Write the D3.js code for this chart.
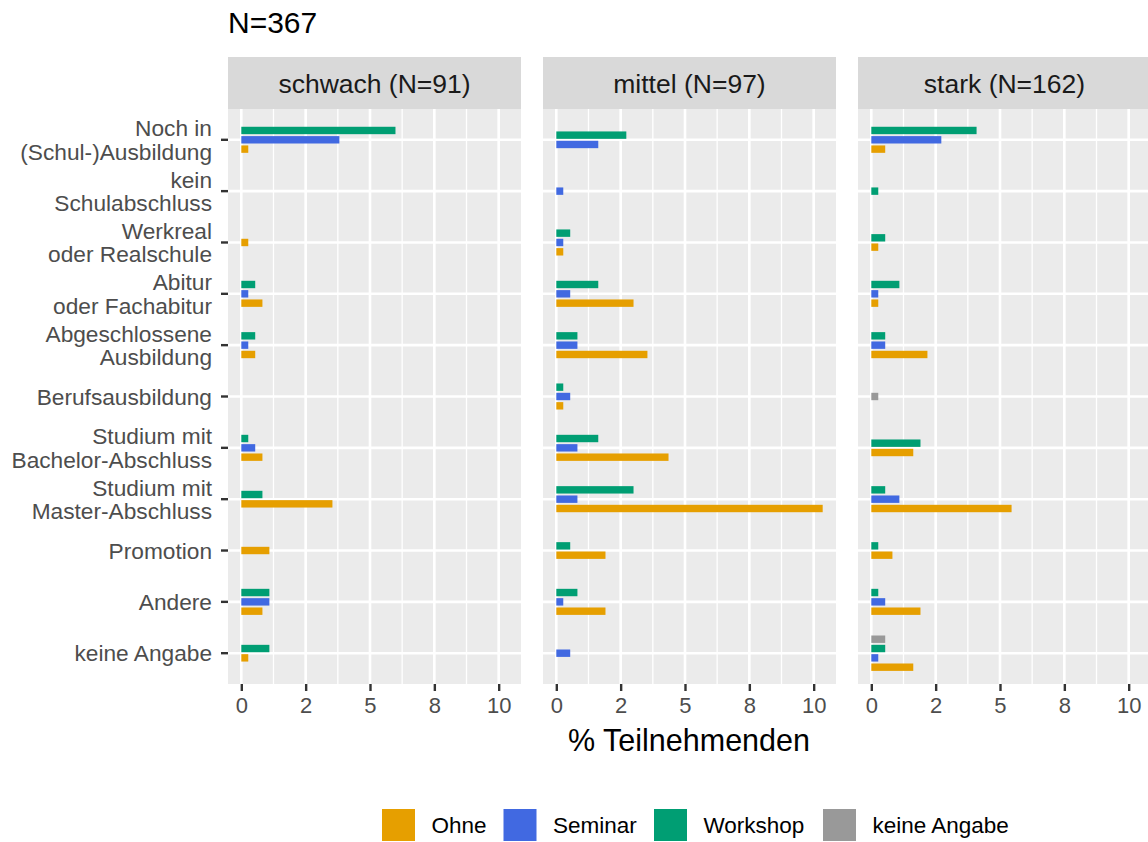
<!DOCTYPE html>
<html>
<head>
<meta charset="utf-8">
<script src="https://cdn.jsdelivr.net/npm/d3@7"></script>
<style>
  html, body { margin: 0; padding: 0; background: #ffffff; }
  svg { display: block; font-family: "Liberation Sans", Arial, sans-serif; }
</style>
</head>
<body>
<svg id="chart" width="1148" height="842"></svg>
<script>
// Education level categories (top to bottom), multi-line labels split by "\n"
const categories = [
  "Noch in\n(Schul-)Ausbildung",
  "kein\nSchulabschluss",
  "Werkreal\noder Realschule",
  "Abitur\noder Fachabitur",
  "Abgeschlossene\nAusbildung",
  "Berufsausbildung",
  "Studium mit\nBachelor-Abschluss",
  "Studium mit\nMaster-Abschluss",
  "Promotion",
  "Andere",
  "keine Angabe"
];

const panelTitles = ["schwach (N=91)", "mittel (N=97)", "stark (N=162)"];
const groups = ["Ohne", "Seminar", "Workshop", "keine Angabe"];
const groupColors = ["#E69F00", "#4169E1", "#009E73", "#999999"];

const xTickValues = [0, 2.5, 5, 7.5, 10];
const xTickLabels = ["0", "2", "5", "8", "10"];

// % of all participants (N=367); null = no answers in that cell
const schwachOhne     = [0.27, null, 0.27, 0.82, 0.54, null, 0.82, 3.54, 1.09, 0.82, 0.27];
const schwachSeminar  = [3.81, null, null, 0.27, 0.27, null, 0.54, null, null, 1.09, null];
const schwachWorkshop = [5.99, null, null, 0.54, 0.54, null, 0.27, 0.82, null, 1.09, 1.09];
const schwachKeine    = [null, null, null, null, null, null, null, null, null, null, null];

const mittelOhne      = [null, null, 0.27, 3.00, 3.54, 0.27, 4.36, 10.35, 1.91, 1.91, null];
const mittelSeminar   = [1.63, 0.27, 0.27, 0.54, 0.82, 0.54, 0.82, 0.82, null, 0.27, 0.54];
const mittelWorkshop  = [2.72, null, 0.54, 1.63, 0.82, 0.27, 1.63, 3.00, 0.54, 0.82, null];
const mittelKeine     = [null, null, null, null, null, null, null, null, null, null, null];

const starkOhne       = [0.54, null, 0.27, 0.27, 2.18, null, 1.63, 5.45, 0.82, 1.91, 1.63];
const starkSeminar    = [2.72, null, null, 0.27, 0.54, null, null, 1.09, null, 0.54, 0.27];
const starkWorkshop   = [4.09, 0.27, 0.54, 1.09, 0.54, null, 1.91, 0.54, 0.27, 0.27, 0.54];
const starkKeine      = [null, null, null, null, null, 0.27, null, null, null, null, 0.54];

const panelSeries = [
  [schwachOhne, schwachSeminar, schwachWorkshop, schwachKeine],
  [mittelOhne, mittelSeminar, mittelWorkshop, mittelKeine],
  [starkOhne, starkSeminar, starkWorkshop, starkKeine]
];

// ---- layout ----
const svg = d3.select("#chart");
const panelLefts = [228, 543, 858];
const panelWidth = 293;
const stripTop = 57, stripBottom = 109;
const panelTop = 109, panelBottom = 684;
const barPitch = 9.33, barHeight = 7.4;

const maxVal = d3.max(panelSeries.flat(2).filter(v => v != null));
const x = d3.scaleLinear()
  .domain([-0.05 * maxVal, maxVal * 1.05])
  .range([0, panelWidth]);

const y = d3.scalePoint()
  .domain(categories)
  .range([panelTop, panelBottom])
  .padding(0.6);

const minorTicks = xTickValues.slice(0, -1).map((v, i) => (v + xTickValues[i + 1]) / 2);

// plot title
svg.append("text")
  .attr("x", 228).attr("y", 33)
  .attr("font-size", 30).attr("fill", "#000")
  .text("N=367");

panelSeries.forEach((series, p) => {
  const g = svg.append("g").attr("transform", `translate(${panelLefts[p]},0)`);

  // strip
  g.append("rect")
    .attr("x", 0).attr("y", stripTop)
    .attr("width", panelWidth).attr("height", stripBottom - stripTop)
    .attr("fill", "#d9d9d9");
  g.append("text")
    .attr("x", panelWidth / 2).attr("y", (stripTop + stripBottom) / 2 + 9.5)
    .attr("text-anchor", "middle")
    .attr("font-size", 26.5).attr("fill", "#1a1a1a")
    .text(panelTitles[p]);

  // panel background
  g.append("rect")
    .attr("x", 0).attr("y", panelTop)
    .attr("width", panelWidth).attr("height", panelBottom - panelTop)
    .attr("fill", "#ebebeb");

  // grid
  g.selectAll(".minor").data(minorTicks).join("line")
    .attr("x1", d => x(d)).attr("x2", d => x(d))
    .attr("y1", panelTop).attr("y2", panelBottom)
    .attr("stroke", "#ffffff").attr("stroke-width", 1.3);
  g.selectAll(".major").data(xTickValues).join("line")
    .attr("x1", d => x(d)).attr("x2", d => x(d))
    .attr("y1", panelTop).attr("y2", panelBottom)
    .attr("stroke", "#ffffff").attr("stroke-width", 2.6);
  g.selectAll(".hgrid").data(categories).join("line")
    .attr("x1", 0).attr("x2", panelWidth)
    .attr("y1", d => y(d)).attr("y2", d => y(d))
    .attr("stroke", "#ffffff").attr("stroke-width", 2.6);

  // bars: groups present in a category are dodged and centred on the category
  const bars = [];
  categories.forEach((cat, ci) => {
    const present = groups.map((gr, gi) => ({ gi, v: series[gi][ci] })).filter(d => d.v != null);
    const k = present.length;
    present.forEach((d, j) => {
      bars.push({ cat, gi: d.gi, v: d.v, cy: y(cat) + ((k - 1) / 2 - j) * barPitch });
    });
  });
  g.selectAll(".bar").data(bars).join("rect")
    .attr("x", x(0))
    .attr("y", d => d.cy - barHeight / 2)
    .attr("width", d => x(d.v) - x(0))
    .attr("height", barHeight)
    .attr("fill", d => groupColors[d.gi]);

  // bottom axis
  const xAxis = d3.axisBottom(x)
    .tickValues(xTickValues)
    .tickFormat((d, i) => xTickLabels[i])
    .tickSize(7).tickPadding(6);
  const ax = g.append("g").attr("transform", `translate(0,${panelBottom})`).call(xAxis);
  ax.select(".domain").remove();
  ax.selectAll(".tick line").attr("stroke", "#333333").attr("stroke-width", 2.4);
  ax.selectAll(".tick text")
    .attr("font-size", 22).attr("fill", "#4d4d4d")
    .attr("font-family", "Liberation Sans, Arial, sans-serif");
});

// left axis (ticks + multi-line labels)
const yAxisG = svg.append("g");
yAxisG.selectAll("line").data(categories).join("line")
  .attr("x1", 221).attr("x2", 228)
  .attr("y1", d => y(d)).attr("y2", d => y(d))
  .attr("stroke", "#333333").attr("stroke-width", 2.4);

const labelSize = 22.7, lineStep = 23.3, capH = 0.716 * labelSize;
categories.forEach(cat => {
  const lines = cat.split("\n");
  const blockH = capH + (lines.length - 1) * lineStep;
  const firstBase = y(cat) - blockH / 2 + capH;
  const t = yAxisG.append("text")
    .attr("text-anchor", "end")
    .attr("font-size", labelSize).attr("fill", "#4d4d4d");
  lines.forEach((ln, i) => {
    t.append("tspan").attr("x", 212).attr("y", firstBase + i * lineStep).text(ln);
  });
});

// x axis title
svg.append("text")
  .attr("x", 689)
  .attr("y", 751)
  .attr("text-anchor", "middle")
  .attr("font-size", 30.5).attr("fill", "#000")
  .text("% Teilnehmenden");

// legend
const legendKeysX = [382, 503.5, 654, 823];
const legend = svg.append("g");
groups.forEach((gr, i) => {
  legend.append("rect")
    .attr("x", legendKeysX[i]).attr("y", 809)
    .attr("width", 33).attr("height", 32)
    .attr("fill", groupColors[i]);
  legend.append("text")
    .attr("x", legendKeysX[i] + 49.5).attr("y", 833)
    .attr("font-size", 22.5).attr("fill", "#000")
    .text(gr);
});
</script>
</body>
</html>
